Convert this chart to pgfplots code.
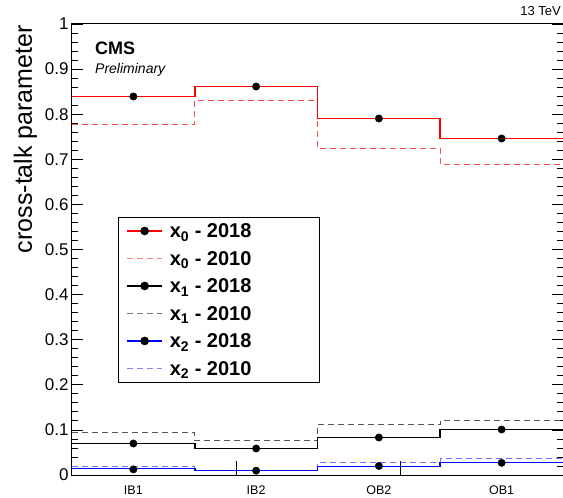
\documentclass[border=0pt]{standalone}
\usepackage{fontspec}
\setmainfont{Liberation Sans}
\usepackage{pgfplots}
\pgfplotsset{compat=1.18}
\definecolor{czero}{RGB}{255,0,0}
\definecolor{czerod}{RGB}{255,80,80}
\definecolor{cone}{RGB}{0,0,0}
\definecolor{coned}{RGB}{85,85,85}
\definecolor{ctwo}{RGB}{0,0,255}
\definecolor{ctwod}{RGB}{110,110,255}
\begin{document}
\begin{tikzpicture}
\begin{axis}[
  scale only axis, width=491pt, height=451pt,
  xmin=0, xmax=4, ymin=0, ymax=1,
  clip=false,
  axis line style={line width=1pt},
  xtick={0.5,1.5,2.5,3.5},
  xticklabels={IB1,IB2,OB2,OB1},
  xtick style={draw=none},
  xticklabel style={font=\fontsize{12.5}{14}\selectfont, anchor=north, text height=9pt, inner sep=0pt, yshift=-10pt},
  ytick={0,0.1,0.2,0.3,0.4,0.5,0.6,0.7,0.8,0.9,1},
  minor y tick num=4,
  major tick length=11pt, minor tick length=6pt,
  ytick style={line width=0.8pt, black},
  minor tick style={line width=0.8pt, black},
  yticklabel style={font=\fontsize{17}{20}\selectfont, /pgf/number format/.cd, fixed, precision=1, assume math mode=true},
  legend style={at={(0.0937,0.5727)}, anchor=north west, draw=black, line width=1pt,
    font=\fontsize{20}{22}\selectfont\bfseries,
    nodes={inner sep=0pt, text height=17pt, text depth=3pt},
    row sep=7.5pt, column sep=7pt, inner xsep=8pt, inner ysep=3.75pt},
  legend cell align=left,
]
% 2010 (dashed)
\addplot[const plot, mark=none, draw=czerod, line width=1.4pt, dash pattern=on 6pt off 4pt, forget plot] coordinates {(0,0.77716)(1,0.83038)(2,0.72395)(3,0.68847)(4,0.68847)};
\addplot[const plot, mark=none, draw=coned, line width=1.4pt, dash pattern=on 6pt off 4pt, forget plot] coordinates {(0,0.09424)(1,0.07650)(2,0.11197)(3,0.12084)(4,0.12084)};
\addplot[const plot, mark=none, draw=ctwod, line width=1.4pt, dash pattern=on 6pt off 4pt, forget plot] coordinates {(0,0.01885)(1,0.00998)(2,0.02772)(3,0.03659)(4,0.03659)};
% 2018 (solid)
\addplot[const plot, mark=none, draw=cone, line width=1.6pt, forget plot] coordinates {(0,0.06984)(1,0.05876)(2,0.08315)(3,0.10089)(4,0.10089)};
\addplot[const plot, mark=none, draw=ctwo, line width=1.6pt, forget plot] coordinates {(0,0.01441)(1,0.00998)(2,0.01885)(3,0.02772)(4,0.02772)};
\addplot[const plot, mark=none, draw=czero, line width=1.6pt, forget plot] coordinates {(0,0.83925)(1,0.86142)(2,0.79047)(3,0.74612)(4,0.74612)};
% markers
\addplot[only marks, mark=*, mark size=3.7pt, mark options={draw=black, fill=black}, forget plot] coordinates {(0.5,0.83925)(1.5,0.86142)(2.5,0.79047)(3.5,0.74612)};
\addplot[only marks, mark=*, mark size=3.7pt, mark options={draw=black, fill=black}, forget plot] coordinates {(0.5,0.06984)(1.5,0.05876)(2.5,0.08315)(3.5,0.10089)};
\addplot[only marks, mark=*, mark size=3.7pt, mark options={draw=black, fill=black}, forget plot] coordinates {(0.5,0.0125)(1.5,0.0096)(2.5,0.0200)(3.5,0.0270)};
% odd axis ticks
\draw[line width=0.8pt] (axis cs:1.336,0) -- ++(0,14pt);
\draw[line width=0.8pt] (axis cs:2.672,0) -- ++(0,14pt);
% legend
\addlegendimage{legend image code/.code={\draw[czero,line width=1.2pt] (0pt,0pt) -- (35pt,0pt); \fill[black] (17.5pt,0pt) circle (3.8pt);}}
\addlegendentry{\makebox[142pt][l]{x\textsubscript{0} - 2018}}
\addlegendimage{legend image code/.code={\draw[czerod!75!white,line width=1.3pt,dash pattern=on 6pt off 4pt] (0pt,0pt) -- (35pt,0pt);}}
\addlegendentry{\makebox[142pt][l]{x\textsubscript{0} - 2010}}
\addlegendimage{legend image code/.code={\draw[cone,line width=1.2pt] (0pt,0pt) -- (35pt,0pt); \fill[black] (17.5pt,0pt) circle (3.8pt);}}
\addlegendentry{\makebox[142pt][l]{x\textsubscript{1} - 2018}}
\addlegendimage{legend image code/.code={\draw[coned!80!white,line width=1.3pt,dash pattern=on 6pt off 4pt] (0pt,0pt) -- (35pt,0pt);}}
\addlegendentry{\makebox[142pt][l]{x\textsubscript{1} - 2010}}
\addlegendimage{legend image code/.code={\draw[ctwo,line width=1.2pt] (0pt,0pt) -- (35pt,0pt); \fill[black] (17.5pt,0pt) circle (3.8pt);}}
\addlegendentry{\makebox[142pt][l]{x\textsubscript{2} - 2018}}
\addlegendimage{legend image code/.code={\draw[ctwod!85!white,line width=1.3pt,dash pattern=on 6pt off 4pt] (0pt,0pt) -- (35pt,0pt);}}
\addlegendentry{\makebox[142pt][l]{x\textsubscript{2} - 2010}}
\end{axis}
\node[anchor=base east, inner sep=0pt, rotate=90, font=\fontsize{25}{28}\selectfont] at ([xshift=-40pt,yshift=-1pt]current axis.north west) {cross-talk parameter};
\node[anchor=base east, inner sep=0pt, font=\fontsize{13}{15}\selectfont] at ([xshift=-2pt,yshift=8pt]current axis.north east) {13 TeV};
\node[anchor=base west, inner sep=0pt, font=\fontsize{18}{20}\selectfont\bfseries] at ([xshift=23pt,yshift=-31pt]current axis.north west) {CMS};
\node[anchor=base west, inner sep=0pt, font=\fontsize{14}{16}\selectfont\itshape] at ([xshift=23pt,yshift=-50pt]current axis.north west) {Preliminary};
\pgfresetboundingbox
\useasboundingbox ([xshift=-72pt,yshift=-22pt]current axis.south west) rectangle ([yshift=24pt]current axis.north east);
\end{tikzpicture}
\end{document}
